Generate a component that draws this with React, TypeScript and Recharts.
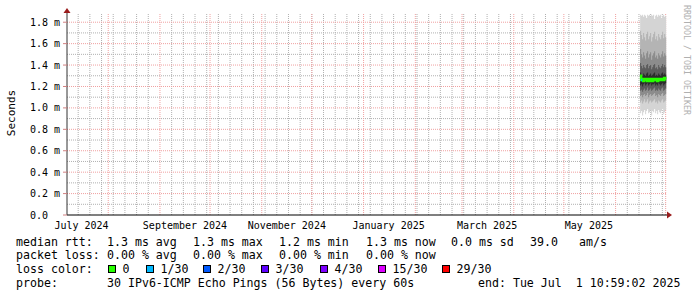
import { ComposedChart, Area, Line, XAxis, YAxis, ReferenceDot, ReferenceLine } from "recharts";

// time axis: days since 1 July 2024 (end = Tue Jul 1 2025 10:59)
const X_MIN = 6.3;
const X_MAX = 365.8;
const Y_MAX = 1.886;

const monthLabels = ["July 2024", "September 2024", "November 2024", "January 2025", "March 2025", "May 2025"];
const monthLabelDays = [15, 77, 138, 199, 258, 319];
const monthStartDays = [31, 62, 92, 123, 153, 184, 215, 243, 274, 304, 335, 365];
const weekDays = [
  13, 20, 27, 34, 41, 48, 55, 69, 76, 83, 90, 97, 104, 111, 118, 125, 132, 139, 146, 153, 160,
  167, 174, 181, 188, 195, 202, 209, 216, 223, 230, 237, 244, 251, 258, 265, 272, 279, 286, 293,
  300, 307, 314, 321, 328, 342, 349, 356, 363,
];
const yMajorTicks = [0, 0.2, 0.4, 0.6, 0.8, 1.0, 1.2, 1.4, 1.6, 1.8];
const yMinorTicks = [0.1, 0.3, 0.5, 0.7, 0.9, 1.1, 1.3, 1.5, 1.7];

// smoke (ms), sampled every ~0.6 day over the last two weeks
const smokeDays = [
  349.7, 350.3, 350.9, 351.5, 352.1, 352.7, 353.3, 353.9, 354.5, 355.1, 355.7, 356.3, 356.9, 357.5,
  358.1, 358.7, 359.3, 359.9, 360.5, 361.1, 361.7, 362.3, 362.9, 363.5, 364.1, 364.7, 365.3,
];
const rttMin = [0.95, 0.97, 0.93, 0.96, 0.98, 0.94, 0.97, 0.99, 0.95, 0.96, 0.98, 0.93, 0.97, 0.96, 0.99, 0.95, 0.97, 0.94, 0.98, 0.96, 0.95, 0.97, 0.99, 0.94, 0.96, 0.98, 0.98];
const rttP10 = [1.05, 1.07, 1.04, 1.06, 1.08, 1.05, 1.06, 1.08, 1.04, 1.06, 1.07, 1.05, 1.06, 1.07, 1.08, 1.05, 1.06, 1.04, 1.07, 1.06, 1.05, 1.07, 1.08, 1.05, 1.06, 1.07, 1.07];
const rttP20 = [1.11, 1.12, 1.10, 1.12, 1.13, 1.11, 1.12, 1.14, 1.10, 1.12, 1.13, 1.11, 1.12, 1.13, 1.14, 1.11, 1.12, 1.10, 1.13, 1.12, 1.11, 1.13, 1.14, 1.11, 1.12, 1.13, 1.13];
const rttP30 = [1.16, 1.17, 1.15, 1.17, 1.18, 1.16, 1.17, 1.19, 1.16, 1.17, 1.18, 1.16, 1.17, 1.18, 1.19, 1.16, 1.17, 1.16, 1.18, 1.17, 1.16, 1.18, 1.19, 1.16, 1.17, 1.18, 1.18];
const rttP40 = [1.21, 1.22, 1.20, 1.22, 1.23, 1.21, 1.22, 1.23, 1.21, 1.22, 1.23, 1.21, 1.22, 1.22, 1.23, 1.21, 1.22, 1.21, 1.23, 1.22, 1.21, 1.22, 1.23, 1.21, 1.22, 1.23, 1.23];
const rttP60 = [1.33, 1.31, 1.30, 1.32, 1.31, 1.30, 1.32, 1.33, 1.30, 1.31, 1.32, 1.30, 1.31, 1.32, 1.33, 1.30, 1.31, 1.30, 1.32, 1.31, 1.30, 1.32, 1.33, 1.31, 1.32, 1.31, 1.31];
const rttP70 = [1.42, 1.39, 1.37, 1.40, 1.38, 1.37, 1.40, 1.41, 1.37, 1.39, 1.40, 1.36, 1.38, 1.40, 1.41, 1.37, 1.38, 1.36, 1.40, 1.38, 1.37, 1.39, 1.41, 1.38, 1.40, 1.38, 1.38];
const rttP80 = [1.55, 1.50, 1.47, 1.52, 1.49, 1.46, 1.51, 1.53, 1.47, 1.50, 1.52, 1.45, 1.49, 1.51, 1.53, 1.47, 1.49, 1.46, 1.51, 1.49, 1.47, 1.50, 1.53, 1.48, 1.51, 1.49, 1.49];
const rttP90 = [1.72, 1.68, 1.64, 1.70, 1.66, 1.63, 1.69, 1.71, 1.64, 1.67, 1.70, 1.62, 1.66, 1.69, 1.71, 1.64, 1.67, 1.63, 1.69, 1.66, 1.64, 1.68, 1.71, 1.65, 1.69, 1.66, 1.66];
const rttMax = [1.87, 1.86, 1.87, 1.85, 1.87, 1.86, 1.84, 1.87, 1.86, 1.87, 1.85, 1.87, 1.86, 1.87, 1.83, 1.86, 1.87, 1.85, 1.87, 1.86, 1.87, 1.84, 1.86, 1.87, 1.85, 1.86, 1.86];
const medianRtt = [1.30, 1.26, 1.27, 1.25, 1.27, 1.26, 1.27, 1.25, 1.27, 1.25, 1.26, 1.27, 1.25, 1.27, 1.27, 1.26, 1.27, 1.25, 1.27, 1.27, 1.26, 1.27, 1.27, 1.26, 1.28, 1.27, 1.27];
const lossMedian = [null, 1.26, 1.26, null, null, null, null, null, null, null, null, null, null, null, null, null, null, null, null, null, null, null, null, null, null, null, null];

const lossLabels = ["0", "1/30", "2/30", "3/30", "4/30", "15/30", "29/30"];
const lossColors = ["#26ff00", "#00b8ff", "#0059ff", "#5e00ff", "#7e00ff", "#dd00ff", "#ff0000"];
const lossBoxX = [108, 146, 203, 261, 320, 378, 442];

const rttLine = ["1.3 ms avg", "1.3 ms max", "1.2 ms min", "1.3 ms now", "0.0 ms sd"];
const lossLine = ["0.00 % avg", "0.00 % max", "0.00 % min", "0.00 % now"];
const statX = [107, 193, 279, 366, 451];

const data = smokeDays.map((d, i) => ({
  day: d,
  b1: [rttMin[i], rttMax[i]],
  b2: [rttP10[i], rttP90[i]],
  b3: [rttP20[i], rttP80[i]],
  b4: [rttP30[i], rttP70[i]],
  b5: [rttP40[i], rttP60[i]],
  median: medianRtt[i],
  loss1: lossMedian[i],
}));

const MONO = "'DejaVu Sans Mono', monospace";
const smokeFills = ["#d4d4d4", "#b4b4b4", "#8c8c8c", "#5c5c5c", "#2c2c2c"];
const MINOR = "#b0b0b0";
const MAJOR = "#f0a0a0";

const fmtY = (v: number) => (v === 0 ? "0.0" : `${v.toFixed(1)} m`);

function YTick({ y, payload }: any) {
  return (
    <text x={30} y={y + 3.5} fontSize={10} fontFamily={MONO} fill="#000">
      {fmtY(payload.value)}
    </text>
  );
}

function XTick({ x, y, payload }: any) {
  const idx = monthLabelDays.indexOf(payload.value);
  return (
    <text x={x} y={y + 14} fontSize={10} fontFamily={MONO} fill="#000" textAnchor="middle">
      {monthLabels[idx]}
    </text>
  );
}

const txt = (top: number, left: number, s: string) => (
  <div
    style={{
      position: "absolute", top, left, fontFamily: MONO, fontSize: 11.6, lineHeight: "14px",
      whiteSpace: "pre", color: "#000",
    }}
  >
    {s}
  </div>
);

export default function App() {
  return (
    <div style={{ position: "absolute", left: 0, top: 0, width: 697, height: 297, background: "#fff", overflow: "hidden" }}>
      <ComposedChart width={697} height={297} data={data} margin={{ top: 13, right: 30, left: 0, bottom: 62 }}>
        {/* grid kept under the smoke: minor weekly / 0.1 ms, major monthly / 0.2 ms */}
        {yMinorTicks.map((v) => (
          <ReferenceLine key={`ym${v}`} y={v} stroke={MINOR} strokeDasharray="1 1" zIndex={-95} />
        ))}
        {weekDays.map((d) => (
          <ReferenceLine key={`xw${d}`} x={d} stroke={MINOR} strokeDasharray="1 1" zIndex={-95} />
        ))}
        {yMajorTicks.slice(1).map((v) => (
          <ReferenceLine key={`yM${v}`} y={v} stroke={MAJOR} strokeDasharray="1 1" zIndex={-90} />
        ))}
        {monthStartDays.map((d) => (
          <ReferenceLine key={`xM${d}`} x={d} stroke={MAJOR} strokeDasharray="1 1" zIndex={-90} />
        ))}
        <XAxis
          type="number"
          dataKey="day"
          domain={[X_MIN, X_MAX]}
          ticks={monthLabelDays}
          tick={<XTick />}
          tickLine={false}
          tickSize={0}
          tickMargin={0}
          axisLine={{ stroke: "#000" }}
          height={20}
          interval={0}
        />
        <YAxis
          type="number"
          domain={[0, Y_MAX]}
          ticks={yMajorTicks}
          tick={<YTick />}
          tickLine={{ stroke: "#d08080" }}
          tickSize={4}
          axisLine={{ stroke: "#333" }}
          width={67}
          interval={0}
        />
        {(["b1", "b2", "b3", "b4", "b5"] as const).map((k, i) => (
          <Area
            key={k}
            dataKey={k}
            type="stepAfter"
            stroke="none"
            fill={smokeFills[i]}
            fillOpacity={1}
            isAnimationActive={false}
            dot={false}
            activeDot={false}
          />
        ))}
        <Line dataKey="median" type="stepAfter" stroke="#26ff00" strokeWidth={2.5} dot={false} activeDot={false} isAnimationActive={false} />
        <Line dataKey="loss1" type="stepAfter" stroke="#00b8ff" strokeWidth={2.5} dot={false} activeDot={false} isAnimationActive={false} connectNulls={false} />
        <ReferenceDot
          x={X_MIN}
          y={Y_MAX}
          ifOverflow="visible"
          shape={(p: any) => (
            <g>
              <line x1={p.cx} y1={p.cy} x2={p.cx} y2={p.cy - 3} stroke="#333" />
              <path d={`M${p.cx - 3.5},${p.cy} L${p.cx + 3.5},${p.cy} L${p.cx},${p.cy - 5} Z`} fill="#9a1c1c" />
            </g>
          )}
        />
        <ReferenceDot
          x={X_MAX}
          y={0}
          ifOverflow="visible"
          shape={(p: any) => (
            <g>
              <line x1={p.cx} y1={p.cy} x2={p.cx + 3} y2={p.cy} stroke="#000" />
              <path d={`M${p.cx},${p.cy - 3.5} L${p.cx},${p.cy + 3.5} L${p.cx + 5},${p.cy} Z`} fill="#9a1c1c" />
            </g>
          )}
        />
      </ComposedChart>

      <div
        style={{
          position: "absolute", left: 11, top: 113, transform: "translate(-50%, -50%) rotate(-90deg)",
          fontFamily: MONO, fontSize: 11, whiteSpace: "nowrap", color: "#000",
        }}
      >
        Seconds
      </div>
      <div
        style={{
          position: "absolute", left: 687, top: 60, transform: "translate(-50%, -50%) rotate(90deg)",
          fontFamily: MONO, fontSize: 8.3, whiteSpace: "nowrap", color: "#b0b0b0",
        }}
      >
        RRDTOOL / TOBI OETIKER
      </div>

      {txt(234.7, 16, "median rtt:")}
      {rttLine.map((s, i) => <div key={s + i}>{txt(234.7, statX[i], s)}</div>)}
      {txt(234.7, 530, "39.0")}
      {txt(234.7, 579, "am/s")}

      {txt(248, 16, "packet loss:")}
      {lossLine.map((s, i) => <div key={s + i}>{txt(248, statX[i], s)}</div>)}

      {txt(262.3, 16, "loss color:")}
      {lossLabels.map((s, i) => (
        <div key={s}>
          <div
            style={{
              position: "absolute", left: lossBoxX[i], top: 265, width: 6, height: 6,
              background: lossColors[i], border: "1px solid #000",
            }}
          />
          {txt(262.3, lossBoxX[i] + 14.5, s)}
        </div>
      ))}

      {txt(275.7, 16, "probe:")}
      {txt(275.7, 107, "30 IPv6-ICMP Echo Pings (56 Bytes) every 60s")}
      {txt(275.7, 478, "end: Tue Jul  1 10:59:02 2025")}
    </div>
  );
}
